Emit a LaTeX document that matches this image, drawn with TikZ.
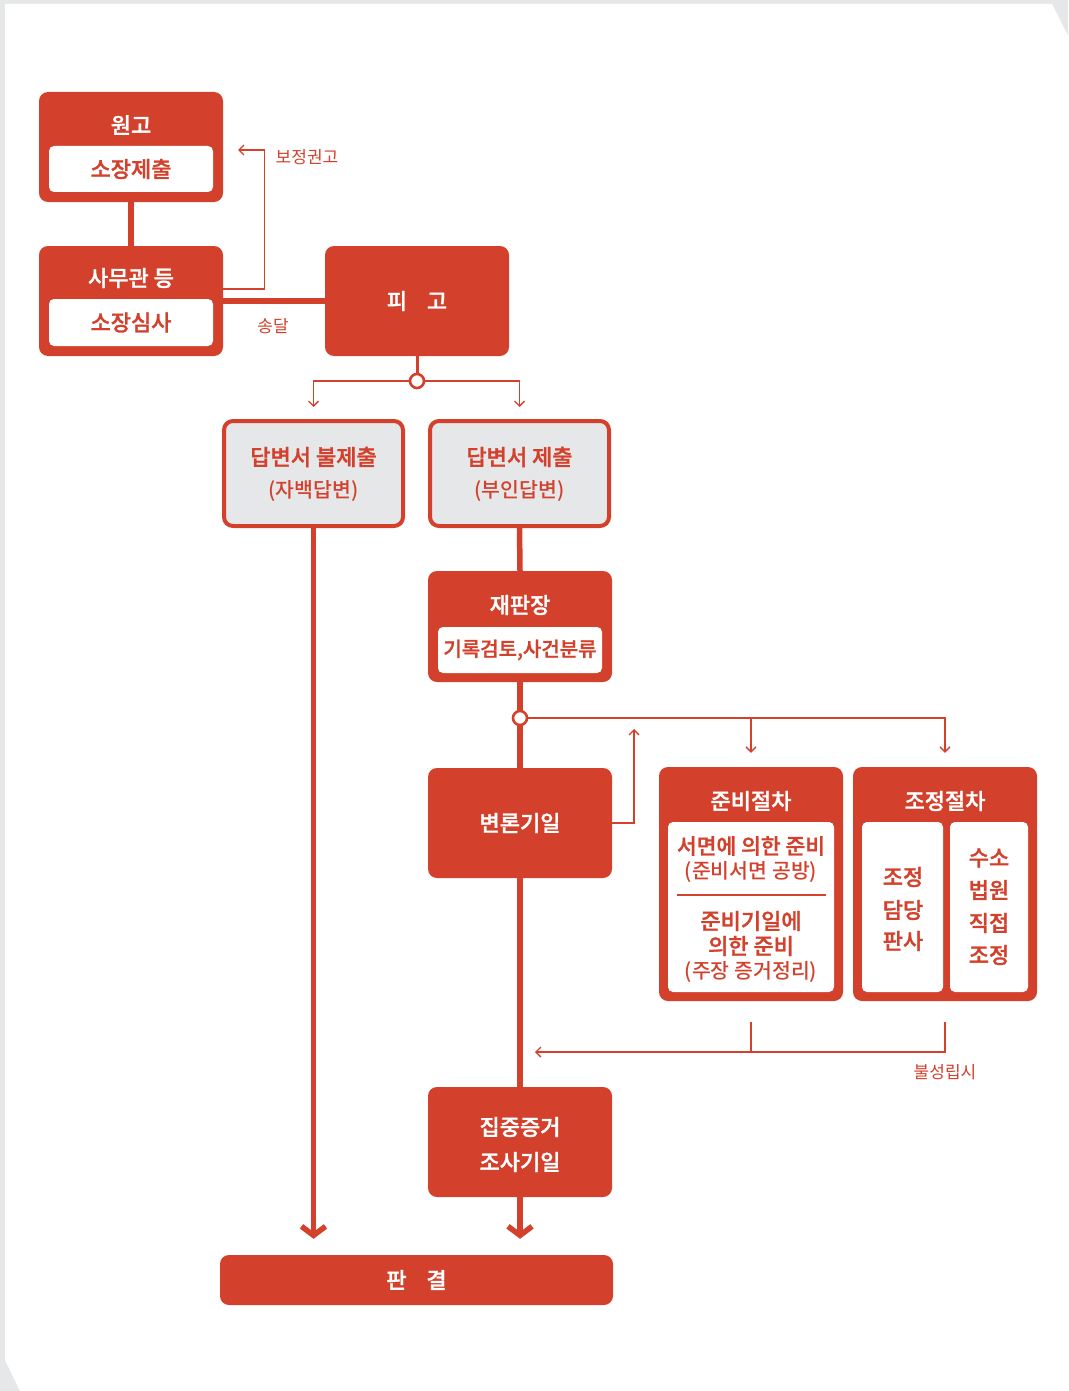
\documentclass[tikz,border=0pt]{standalone}
\usepackage{fontspec}
\setmainfont{Noto Sans CJK KR}[BoldFont={Noto Sans CJK KR Medium}, BoldFeatures={FakeBold=1.3}]
\newfontfamily\krmed{Noto Sans CJK KR Medium}
\usetikzlibrary{arrows.meta}
\definecolor{cred}{HTML}{D3412C}
\definecolor{cgray}{HTML}{E6E7E9}
\definecolor{cbg}{HTML}{E6E7E8}
\begin{document}
\begin{tikzpicture}[x=1pt,y=-1pt,
  redbox/.style={fill=cred, rounded corners=9pt, inner sep=0pt, draw=none},
  whitebox/.style={fill=white, rounded corners=5pt, inner sep=0pt},
  graybox/.style={fill=cgray, draw=cred, line width=4pt, rounded corners=9pt, inner sep=0pt},
  bigf/.style={font=\fontsize{22}{26}\selectfont\bfseries},
  wt/.style={text=white, bigf, inner sep=0pt},
  rt/.style={text=cred, bigf, inner sep=0pt},
  rs/.style={text=cred, font=\fontsize{20.5}{24}\selectfont\krmed, inner sep=0pt},
  lbl/.style={text=cred, font=\fontsize{17}{20}\selectfont, inner sep=0pt},
  thickln/.style={draw=cred, line width=5.5pt},
  midln/.style={draw=cred, line width=3pt},
  thinln/.style={draw=cred, line width=1.3pt},
  thinarr/.style={thinln, -{Straight Barb[length=5pt,width=10pt]}},
  thickarr/.style={thickln, -{Straight Barb[length=9pt,width=24pt]}},
  dot/.style={circle, draw=cred, fill=white, line width=2.6pt, minimum size=14pt, inner sep=0pt},
]
% background
\useasboundingbox (0,0) rectangle (1068,1391);
\fill[cbg] (0,0) rectangle (1068,1391);
\fill[white] (5,4) -- (1052,4) -- (1068,36) -- (1068,1391) -- (20,1391) -- (5,1360) -- cycle;

% boxes
\node[redbox, minimum width=184pt, minimum height=110pt] (wongo) at (131,147) {};
\node[wt] (wongoT) at (131,125) {원고};
\node[whitebox, minimum width=164pt, minimum height=46pt, text=cred, bigf] (wongoI) at (131,169) {소장제출};

\node[redbox, minimum width=184pt, minimum height=110pt] (samu) at (131,301) {};
\node[wt] (samuT) at (131,278) {사무관 등};
\node[whitebox, minimum width=164pt, minimum height=47pt, text=cred, bigf] (samuI) at (131,322.5) {소장심사};

\node[redbox, minimum width=184pt, minimum height=110pt, text=white, bigf] (pigo) at (417,301) {피\hspace{0.9em}고};

\node[graybox, minimum width=179pt, minimum height=105pt] (nb) at (313.5,473.5) {};
\node[rt] (nbT) at (313.5,457) {답변서 불제출};
\node[rs] (nbS) at (313.5,491) {(자백답변)};

\node[graybox, minimum width=179pt, minimum height=105pt] (ns) at (519.5,473.5) {};
\node[rt] (nsT) at (519.5,457) {답변서 제출};
\node[rs] (nsS) at (519.5,491) {(부인답변)};

\node[redbox, minimum width=184pt, minimum height=111pt] (jp) at (520,626.5) {};
\node[wt] (jpT) at (520,605) {재판장};
\node[whitebox, minimum width=164pt, minimum height=46pt, text=cred, font=\fontsize{20}{24}\selectfont\bfseries] (jpI) at (520,650) {기록검토,사건분류};

\node[redbox, minimum width=184pt, minimum height=110pt, text=white, bigf] (bl) at (520,823) {변론기일};

\node[redbox, minimum width=184pt, minimum height=234pt] (jb) at (751,884) {};
\node[wt] (jbT) at (751,801) {준비절차};
\node[whitebox, minimum width=166pt, minimum height=170pt] (jbI) at (751,907) {};
\node[rt, font=\fontsize{21.5}{25}\selectfont\bfseries] (jb1) at (751,846) {서면에 의한 준비};
\node[rs] (jb2) at (751,872) {(준비서면 공방)};
\draw[thinln] (677,895) -- (826,895);
\node[rt] (jb3) at (751,921) {준비기일에};
\node[rt] (jb4) at (751,946) {의한 준비};
\node[rs] (jb5) at (751,972) {(주장 증거정리)};

\node[redbox, minimum width=184pt, minimum height=234pt] (jj) at (945,884) {};
\node[wt] (jjT) at (945,801) {조정절차};
\node[whitebox, minimum width=81pt, minimum height=170pt] (jjL) at (902.5,907) {};
\node[whitebox, minimum width=78pt, minimum height=170pt] (jjR) at (989,907) {};
\node[rt] (jjL1) at (903,877) {조정};
\node[rt] (jjL2) at (903,910) {담당};
\node[rt] (jjL3) at (903,941) {판사};
\node[rt] (jjR1) at (989,858) {수소};
\node[rt] (jjR2) at (989,890) {법원};
\node[rt] (jjR3) at (989,923) {직접};
\node[rt] (jjR4) at (989,955) {조정};

\node[redbox, minimum width=184pt, minimum height=110pt] (jz) at (520,1142) {};
\node[wt] (jz1) at (520,1127) {집중증거};
\node[wt] (jz2) at (520,1162) {조사기일};

\node[redbox, minimum width=393pt, minimum height=50pt, text=white, bigf] (pg) at (416.5,1280) {판\hspace{0.9em}결};

% dots
\node[dot] (c1) at (417,381) {};
\node[dot] (c2) at (520,718) {};

% labels
\node[lbl] (bjL) at (307,157) {보정권고};
\node[lbl] (sdL) at (273,326) {송달};
\node[lbl] (bsL) at (945,1072) {불성립시};

% coordinates
\coordinate (bjend) at (238,150);
\coordinate (uparr) at (634,729);
\coordinate (bsend) at (535,1052);

% connectors
\draw[thickln] (wongo.south) -- (samu.north);
\draw[thickln] (samu.east) -- (pigo.west);
\draw[thinarr] ([yshift=12pt]samu.east) -- ++(41,0) |- (bjend);
\draw[midln] (pigo.south) -- (c1.north);
\draw[thinarr, shorten >=12pt] (c1.west) -| (nb.north);
\draw[thinarr, shorten >=12pt] (c1.east) -| (ns.north);
\draw[thickarr, shorten >=16pt] (nb.south) -- (nb.south |- pg.north);
\draw[thickln] (ns.south) -- (jp.north);
\draw[thickln] (jp.south) -- (c2.north);
\draw[thickln] (c2.south) -- (bl.north);
\draw[thinarr, shorten >=14pt] (c2.east) -| (jb.north);
\draw[thinarr, shorten >=14pt] (c2.east) -| (jj.north);
\draw[thinarr] (bl.east) -| (uparr);
\draw[thinln] ([yshift=-21pt]jb.south) -- (jb.south |- bsend);
\draw[thinarr] ([yshift=-21pt]jj.south) |- (bsend);
\draw[thickln] (bl.south) -- (jz.north);
\draw[thickarr, shorten >=16pt] (jz.south) -- (jz.south |- pg.north);
\end{tikzpicture}
\end{document}
